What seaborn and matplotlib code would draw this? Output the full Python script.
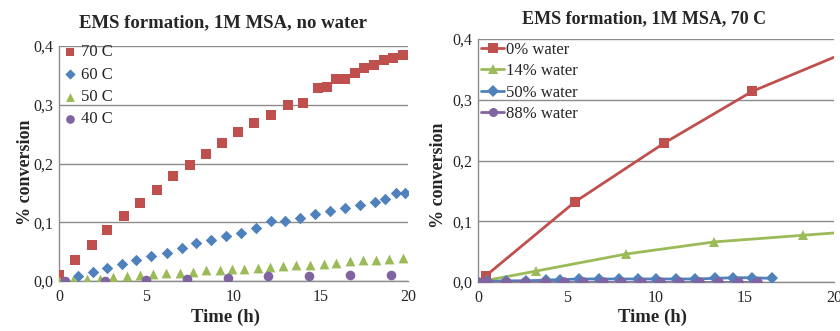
import matplotlib
matplotlib.use('Agg')
import matplotlib.pyplot as plt
import seaborn as sns
import pandas as pd
from matplotlib.lines import Line2D
from matplotlib.ticker import FuncFormatter

# left panel: 1M MSA, no water, different temperatures
t70 = [0, 0.93, 1.87, 2.78, 3.74, 4.66, 5.62, 6.55, 7.49, 8.42, 9.34, 10.26, 11.2,
       12.16, 13.1, 14.0, 14.83, 15.36, 15.87, 16.4, 16.96, 17.5, 18.05, 18.6, 19.15, 19.7]
c70 = [0.010, 0.036, 0.062, 0.087, 0.111, 0.132, 0.155, 0.179, 0.197, 0.216, 0.235, 0.253, 0.269,
       0.283, 0.299, 0.303, 0.328, 0.330, 0.344, 0.344, 0.354, 0.362, 0.368, 0.376, 0.380, 0.384]
t60 = [1.07, 1.93, 2.77, 3.6, 4.44, 5.3, 6.17, 7.03, 7.87, 8.71, 9.59, 10.43, 11.28,
       12.15, 12.97, 13.81, 14.67, 15.53, 16.39, 17.25, 18.09, 18.7, 19.3, 19.83]
c60 = [0.008, 0.016, 0.022, 0.029, 0.035, 0.043, 0.048, 0.057, 0.064, 0.070, 0.076, 0.082, 0.090,
       0.103, 0.102, 0.107, 0.114, 0.120, 0.124, 0.129, 0.135, 0.139, 0.149, 0.149]
t50 = [0, 0.8, 1.6, 2.35, 3.1, 3.9, 4.65, 5.4, 6.15, 6.95, 7.7, 8.45, 9.2, 9.9,
       10.6, 11.4, 12.1, 12.85, 13.6, 14.4, 15.2, 15.9, 16.7, 17.45, 18.15, 18.9, 19.7]
c50 = [0.0, 0.001, 0.003, 0.004, 0.007, 0.009, 0.010, 0.012, 0.013, 0.014, 0.016, 0.018, 0.019, 0.020,
       0.021, 0.022, 0.024, 0.026, 0.027, 0.028, 0.029, 0.031, 0.034, 0.036, 0.036, 0.037, 0.040]
t40 = [0.34, 2.64, 4.97, 7.33, 9.67, 11.98, 14.35, 16.66, 19.0]
c40 = [0.0, 0.0, 0.002, 0.003, 0.005, 0.008, 0.008, 0.0097, 0.011]

# right panel: 1M MSA, 70 C, different water content
w0_t = [0.43, 5.45, 10.47, 15.41, 20.4]
w0_c = [0.010, 0.132, 0.229, 0.314, 0.375]
w14_t = [0, 3.26, 8.3, 13.26, 18.28, 23.3]
w14_c = [0.0, 0.018, 0.046, 0.066, 0.077, 0.088]
w50_t = [0.5, 1.6, 2.7, 3.8, 4.6, 5.7, 6.8, 7.9, 9.0, 10.0, 11.1, 12.2, 13.3, 14.3, 15.4, 16.5]
w50_c = [0.001, 0.002, 0.002, 0.003, 0.004, 0.005, 0.005, 0.005, 0.005, 0.005, 0.005, 0.005,
         0.006, 0.007, 0.007, 0.006]
w88_t = [0, 0.49, 1.57, 2.66, 3.75, 4.83, 5.92, 7.0, 8.05, 9.14, 10.22, 11.31, 12.4, 13.48, 14.59, 15.67]
w88_c = [0.0] * 16

RED, BLUE, GREEN, PURPLE = '#C0504D', '#4F81BD', '#9BBB59', '#8064A2'
GRAY = '#8C8C8C'

sns.set_style('white')
plt.rcParams['font.family'] = ['Liberation Serif', 'DejaVu Serif']

fig = plt.figure(figsize=(8.4, 3.31), dpi=100)
axL = fig.add_axes([0.0702, 0.151, 0.4155, 0.710])
axR = fig.add_axes([0.569, 0.148, 0.424, 0.734])

comma = FuncFormatter(lambda v, p: ('%.1f' % v).replace('.', ','))


def style_axes(ax):
    ax.set_xlim(0, 20)
    ax.set_ylim(0, 0.4)
    ax.set_xticks([0, 5, 10, 15, 20])
    ax.set_yticks([0, 0.1, 0.2, 0.3, 0.4])
    ax.yaxis.set_major_formatter(comma)
    ax.grid(axis='y', color=GRAY, linewidth=1.0)
    ax.grid(axis='x', visible=False)
    ax.set_axisbelow(True)
    for s in ['top', 'right']:
        ax.spines[s].set_visible(False)
    for s in ['left', 'bottom']:
        ax.spines[s].set_color(GRAY)
        ax.spines[s].set_linewidth(1.0)
    ax.tick_params(axis='x', direction='inout', length=8, width=1.0, color=GRAY,
                   labelsize=11.5, pad=2)
    ax.tick_params(axis='y', length=0, labelsize=11.5, pad=4)
    ax.set_xlabel('')
    ax.set_ylabel('')


# left: scatter
left_series = [
    (t70, c70, 's', RED, '70 C', 46),
    (t60, c60, 'D', BLUE, '60 C', 34),
    (t50, c50, '^', GREEN, '50 C', 50),
    (t40, c40, 'o', PURPLE, '40 C', 48),
]
for t, c, m, col, lab, sz in left_series:
    df = pd.DataFrame({'time': t, 'conv': c})
    sns.scatterplot(data=df, x='time', y='conv', marker=m, color=col, s=sz,
                    linewidth=0, ax=axL, label=lab, zorder=3)
style_axes(axL)
axL.legend(loc='upper left', bbox_to_anchor=(-0.02, 1.05), frameon=False, fontsize=12,
           handletextpad=0.15, labelspacing=0.38, borderaxespad=0.2, handlelength=1.0,
           markerscale=0.9)

# right: lines with markers
right_series = [
    (w0_t, w0_c, 's', RED, '0% water'),
    (w14_t, w14_c, '^', GREEN, '14% water'),
    (w50_t, w50_c, 'D', BLUE, '50% water'),
    (w88_t, w88_c, 'o', PURPLE, '88% water'),
]
handles = []
for t, c, m, col, lab in right_series:
    df = pd.DataFrame({'time': t, 'conv': c})
    sns.lineplot(data=df, x='time', y='conv', marker=m, color=col, linewidth=2,
                 markersize=7.5 if m != 'D' else 6.5, markeredgewidth=0, ax=axR, zorder=3)
    handles.append(Line2D([], [], color=col, marker=m, linewidth=2, markersize=6.5,
                          markeredgewidth=0, label=lab))
style_axes(axR)
axR.legend(handles=handles, loc='upper left', bbox_to_anchor=(-0.02, 1.03), frameon=False,
           fontsize=12, handletextpad=0.1, labelspacing=0.33, borderaxespad=0.2,
           handlelength=1.4)

# titles and axis labels
fig.text(0.2655, 0.930, 'EMS formation, 1M MSA, no water', ha='center', va='center',
         fontsize=13.5, fontweight='bold')
fig.text(0.7667, 0.943, 'EMS formation, 1M MSA, 70 C', ha='center', va='center',
         fontsize=13, fontweight='bold')
fig.text(0.030, 0.48, '% conversion', rotation=90, ha='center', va='center',
         fontsize=13, fontweight='bold')
fig.text(0.5226, 0.47, '% conversion', rotation=90, ha='center', va='center',
         fontsize=13, fontweight='bold')
fig.text(0.268, 0.040, 'Time (h)', ha='center', va='center', fontsize=13.5, fontweight='bold')
fig.text(0.777, 0.040, 'Time (h)', ha='center', va='center', fontsize=13.5, fontweight='bold')

plt.savefig('out.png', dpi=100)
plt.close()
